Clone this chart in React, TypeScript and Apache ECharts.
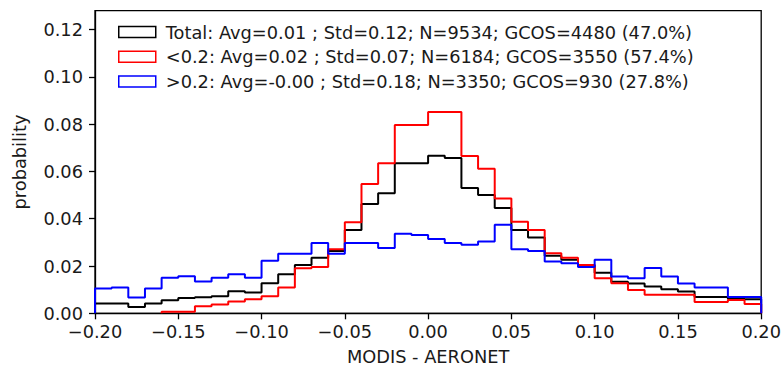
import React, { useEffect, useRef } from "react";
import * as echarts from "echarts";

const binEdges = [
  -0.2, -0.19, -0.18, -0.17, -0.16, -0.15, -0.14, -0.13, -0.12, -0.11,
  -0.1, -0.09, -0.08, -0.07, -0.06, -0.05, -0.04, -0.03, -0.02, -0.01,
  0.0, 0.01, 0.02, 0.03, 0.04, 0.05, 0.06, 0.07, 0.08, 0.09,
  0.1, 0.11, 0.12, 0.13, 0.14, 0.15, 0.16, 0.17, 0.18, 0.19, 0.2,
];

const totalValues = [
  0.0041, 0.0041, 0.0027, 0.0041, 0.0055, 0.0065, 0.0068, 0.0072, 0.0093, 0.0088,
  0.0127, 0.0165, 0.0204, 0.0235, 0.0264, 0.0352, 0.0462, 0.0508, 0.0635, 0.0635,
  0.0666, 0.0657, 0.053, 0.05, 0.0445, 0.0352, 0.0321, 0.0243, 0.0226, 0.0204,
  0.0172, 0.0133, 0.0126, 0.0113, 0.0102, 0.0092, 0.0069, 0.0069, 0.0062, 0.0059,
];

const lowValues = [
  0, 0, 0, 0, 0.0007, 0.0007, 0.003, 0.0037, 0.005, 0.0059,
  0.0072, 0.0109, 0.0191, 0.0196, 0.0271, 0.0385, 0.0547, 0.0635, 0.0797, 0.0797,
  0.0851, 0.0851, 0.0665, 0.0611, 0.0486, 0.0387, 0.0352, 0.0254, 0.0235, 0.0204,
  0.0148, 0.0127, 0.0099, 0.0078, 0.0078, 0.0078, 0.0048, 0.0048, 0.0056, 0.0039,
];

const highValues = [
  0.0105, 0.0109, 0.0067, 0.0105, 0.015, 0.0157, 0.0134, 0.015, 0.0165, 0.015,
  0.0222, 0.0252, 0.0252, 0.0297, 0.0252, 0.0297, 0.0297, 0.0276, 0.0336, 0.0331,
  0.0314, 0.0297, 0.029, 0.0304, 0.0375, 0.0271, 0.0264, 0.0219, 0.0212, 0.0196,
  0.0226, 0.0156, 0.0148, 0.0192, 0.0156, 0.0126, 0.0109, 0.0109, 0.0069, 0.0069,
];

const seriesNames = [
  "Total: Avg=0.01 ; Std=0.12; N=9534; GCOS=4480 (47.0%)",
  "<0.2: Avg=0.02 ; Std=0.07; N=6184; GCOS=3550 (57.4%)",
  ">0.2: Avg=-0.00 ; Std=0.18; N=3350; GCOS=930 (27.8%)",
];
const seriesColors = ["#000000", "#ff0000", "#0000ff"];

const xTicks = [-0.2, -0.15, -0.1, -0.05, 0, 0.05, 0.1, 0.15, 0.2];
const yTicks = [0, 0.02, 0.04, 0.06, 0.08, 0.1, 0.12];

const FONT = "DejaVu Sans";
const FS = 17.8;
const TEXT_COLOR = "#1a1a1a";

function stepData(values: number[]) {
  let start = 0;
  while (start < values.length && values[start] === 0) start++;
  const pts: number[][] = [[binEdges[start], 0]];
  for (let i = start; i < values.length; i++) pts.push([binEdges[i], values[i]]);
  const last = values.length;
  pts.push([binEdges[last], values[last - 1]]);
  pts.push([binEdges[last], 0]);
  return pts;
}

function fmt(v: number) {
  const s = Math.abs(v).toFixed(2);
  return v < -1e-9 ? "\u2212" + s : s;
}

export default function App() {
  const ref = useRef<HTMLDivElement>(null);
  useEffect(() => {
    if (!ref.current) return;
    const chart = echarts.init(ref.current, null, { renderer: "svg" });
    const allValues = [totalValues, lowValues, highValues];
    chart.setOption({
      animation: false,
      backgroundColor: "#ffffff",
      grid: {
        left: 95,
        right: 22.5,
        top: 10.7,
        bottom: 57.7,
        show: true,
        borderColor: "#000",
        borderWidth: 1.3,
        backgroundColor: "transparent",
      },
      legend: {
        orient: "vertical",
        left: 113,
        top: 17,
        itemWidth: 37,
        itemHeight: 11,
        itemGap: 4.7,
        selectedMode: false,
        textStyle: {
          fontFamily: FONT,
          fontSize: FS,
          color: TEXT_COLOR,
          lineHeight: 20,
          padding: [0, 0, 0, 5],
        },
        data: seriesNames.map((name, i) => ({
          name,
          icon: "rect",
          itemStyle: { color: "#ffffff", borderColor: seriesColors[i], borderWidth: 1.5 },
        })),
      },
      xAxis: {
        type: "value",
        min: -0.2,
        max: 0.2,
        interval: 0.05,
        name: "MODIS - AERONET",
        nameLocation: "middle",
        nameGap: 34,
        nameTextStyle: { fontFamily: FONT, fontSize: FS, color: TEXT_COLOR },
        splitLine: { show: false },
        axisLine: { show: true, onZero: false, lineStyle: { color: "#000", width: 1.3 } },
        axisTick: { show: true, inside: false, length: 6, lineStyle: { color: "#000", width: 1.3 }, customValues: xTicks },
        axisLabel: {
          fontFamily: FONT,
          fontSize: FS,
          color: TEXT_COLOR,
          margin: 9,
          customValues: xTicks,
          formatter: (v: number) => fmt(v),
        },
      },
      yAxis: {
        type: "value",
        min: 0,
        max: 0.128,
        interval: 0.02,
        name: "probability",
        nameLocation: "middle",
        nameGap: 67,
        nameTextStyle: { fontFamily: FONT, fontSize: FS, color: TEXT_COLOR },
        splitLine: { show: false },
        axisLine: { show: true, onZero: false, lineStyle: { color: "#000", width: 1.3 } },
        axisTick: { show: true, inside: false, length: 6, lineStyle: { color: "#000", width: 1.3 }, customValues: yTicks },
        axisLabel: {
          fontFamily: FONT,
          fontSize: FS,
          color: TEXT_COLOR,
          margin: 12,
          customValues: yTicks,
          formatter: (v: number) => fmt(v),
        },
      },
      series: seriesNames.map((name, i) => ({
        name,
        type: "line",
        step: "end",
        symbol: "none",
        data: stepData(allValues[i]),
        lineStyle: { color: seriesColors[i], width: 2 },
        itemStyle: { color: seriesColors[i] },
        emphasis: { disabled: true },
      })),
    });
    return () => chart.dispose();
  }, []);
  return (
    <div
      ref={ref}
      style={{ position: "fixed", left: 0, top: 0, width: 784, height: 371, background: "#fff" }}
    />
  );
}
